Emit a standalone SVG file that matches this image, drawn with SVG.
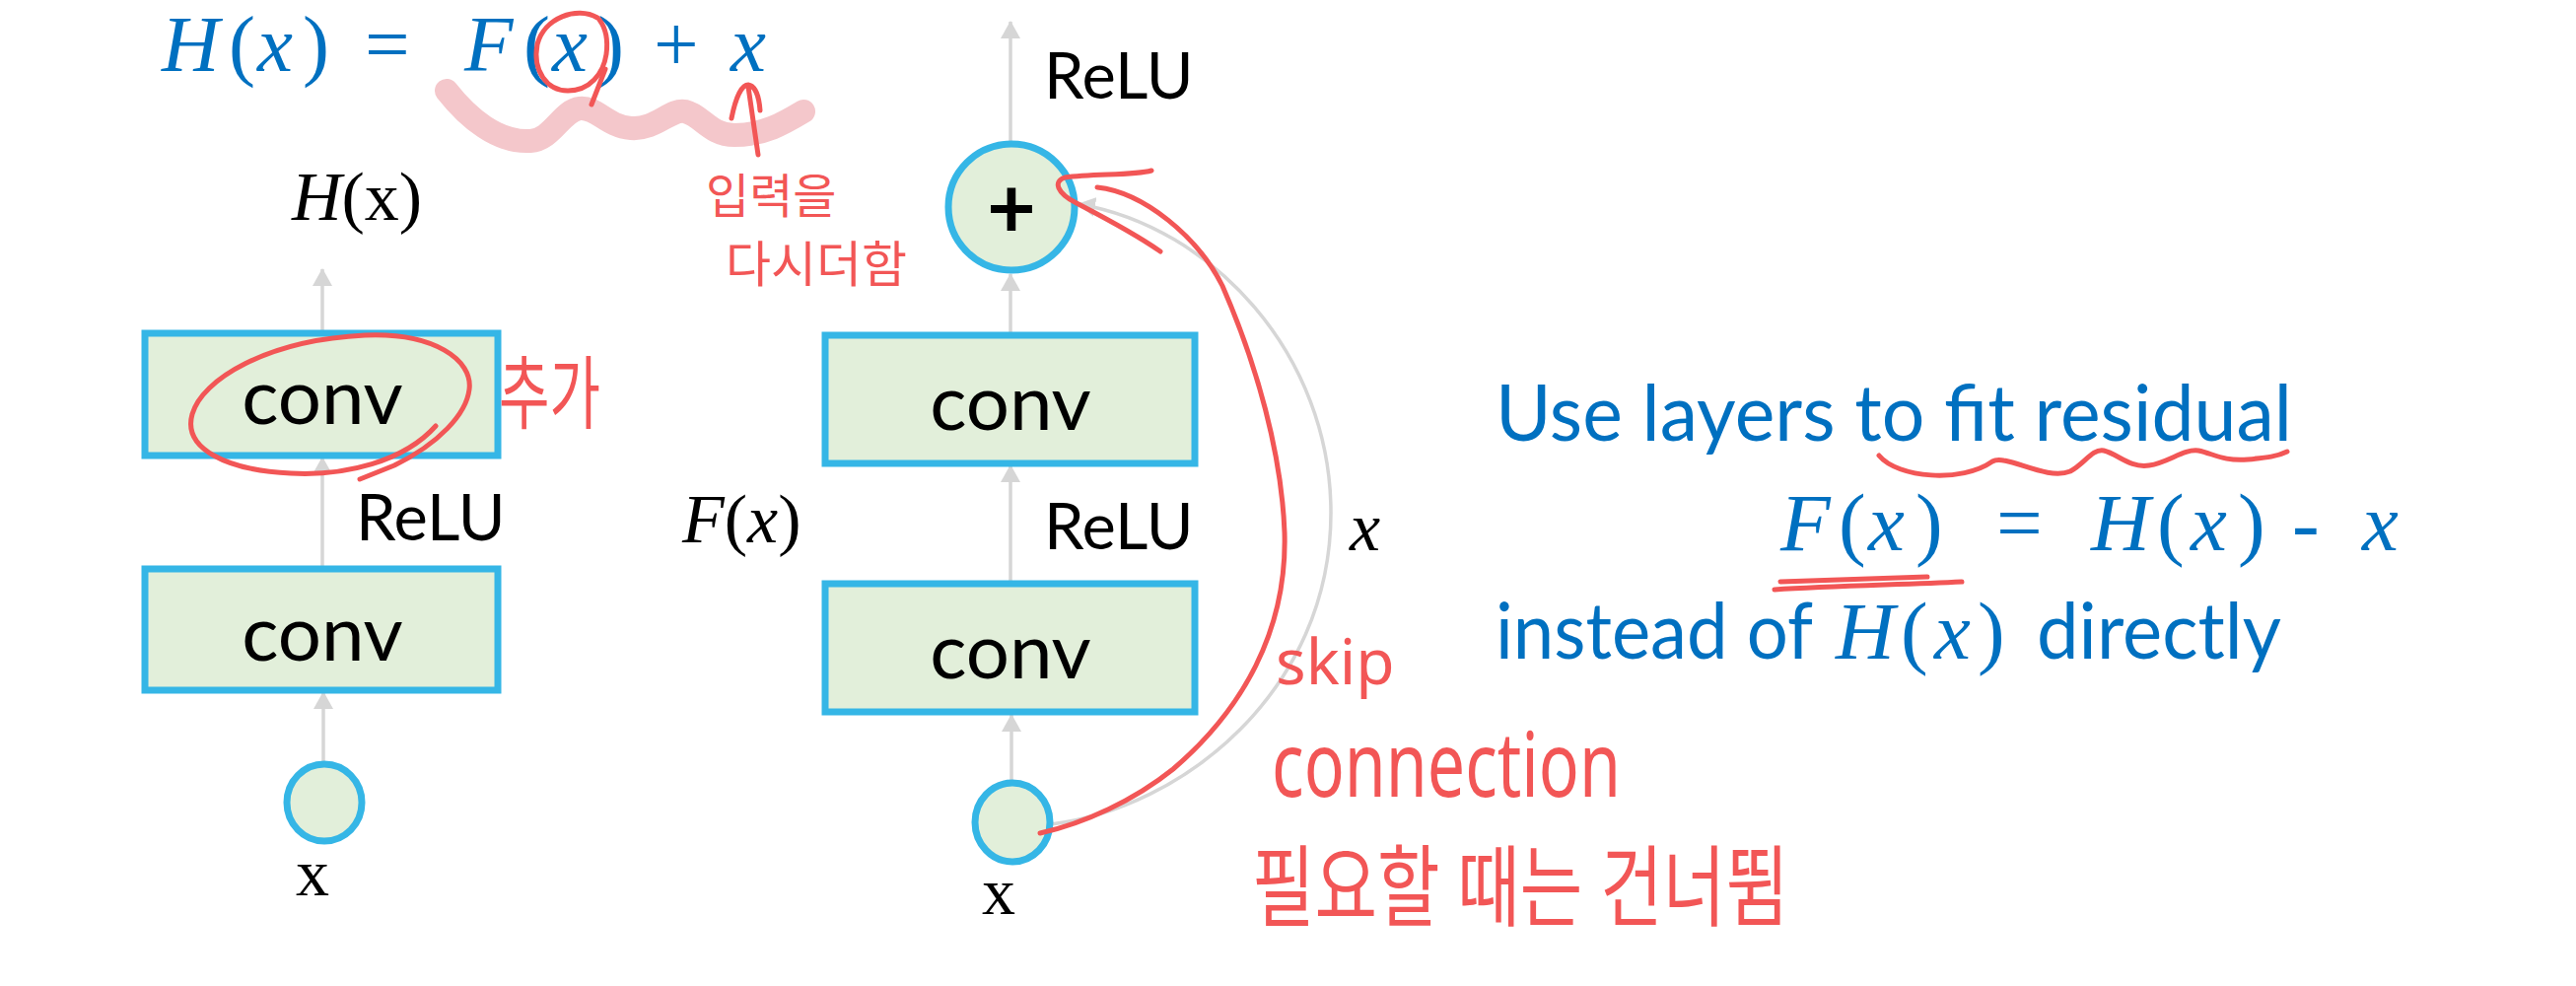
<svg xmlns="http://www.w3.org/2000/svg" width="2613" height="1000" viewBox="0 0 2613 1000">
<style>
.box{fill:#E2EFDA;stroke:#35B6E6;stroke-width:7}
.lbl{font-family:Lato,"Liberation Sans",sans-serif;fill:#000}
.conv{font-family:Lato,"Liberation Sans",sans-serif;font-size:78px;fill:#000;text-anchor:middle}
.relu{font-family:Lato,"Liberation Sans",sans-serif;font-size:65px;fill:#000}
.m{font-family:"Liberation Serif",serif;font-size:70px;fill:#000}
.it{font-style:italic}
.bm{font-family:"Liberation Serif",serif;font-size:83px;fill:#0070C0}
.tm{font-family:"Liberation Serif",serif;font-size:81px;fill:#0070C0}
.bt{font-family:Lato,"Liberation Sans",sans-serif;font-size:79px;fill:#0070C0}
.arr{stroke:#D6D6D6;stroke-width:3.5;fill:none;marker-end:url(#ah)}
.red{stroke:#F25656;stroke-width:5;fill:none;stroke-linecap:round;stroke-linejoin:round}
.rt{font-family:"Noto Sans","Noto Sans CJK KR",sans-serif;fill:#F25656}
</style>
<defs>
<marker id="ah" viewBox="0 0 18 20" markerWidth="18" markerHeight="20" markerUnits="userSpaceOnUse" refX="17" refY="10" orient="auto">
<path d="M0,0 L18,10 L0,20 z" fill="#D6D6D6"/>
</marker>
</defs>
<rect width="2613" height="1000" fill="#fff"/>

<!-- pink highlight -->
<path d="M453,92 C475,120 505,145 538,143 C560,142 570,112 588,110 C605,108 615,128 640,130 C665,132 680,110 695,113 C712,117 720,137 745,137 C775,137 795,125 815,113" stroke="#F4C7CB" stroke-width="24" fill="none" stroke-linecap="round" stroke-linejoin="round"/>

<!-- top equation -->
<g id="eq-top">
<text class="tm it" x="164" y="72">H</text>
<text class="tm" x="232" y="72">(</text>
<text class="tm it" x="261" y="72">x</text>
<text class="tm" x="307" y="72">)</text>
<text class="tm" x="370" y="72">=</text>
<text class="tm it" x="471" y="72">F</text>
<text class="tm" x="531" y="72">(</text>
<text class="tm it" x="560" y="72">x</text>
<text class="tm" x="606" y="72">)</text>
<text class="tm" x="663" y="72">+</text>
<text class="tm it" x="741" y="72">x</text>
</g>

<!-- connectors -->
<g id="connectors">
<line class="arr" x1="327" y1="338" x2="327" y2="273"/>
<line class="arr" x1="327" y1="577" x2="327" y2="464"/>
<line class="arr" x1="328" y1="774" x2="328" y2="702"/>
<line class="arr" x1="1025" y1="143" x2="1025" y2="22"/>
<line class="arr" x1="1025" y1="340" x2="1025" y2="278"/>
<line class="arr" x1="1025" y1="592" x2="1025" y2="472"/>
<line class="arr" x1="1026" y1="792" x2="1026" y2="725"/>
<path class="arr" d="M1066,836 C1200,820 1350,700 1350,520 C1350,360 1230,230 1094,207"/>
</g>

<!-- left column -->
<g id="left-hx"><text class="m" x="296" y="223"><tspan class="it">H</tspan>(x)</text></g>
<g id="left-conv-top"><rect class="box" x="147" y="338" width="358" height="124"/><text class="conv" x="327" y="430">conv</text></g>
<g id="left-relu"><text class="relu" x="361" y="548">ReLU</text></g>
<g id="left-conv-bottom"><rect class="box" x="147" y="577" width="358" height="123"/><text class="conv" x="327" y="670">conv</text></g>
<g id="left-input"><ellipse class="box" cx="329" cy="814" rx="38" ry="39"/><text class="m" x="317" y="908" style="font-size:68px" text-anchor="middle">x</text></g>

<!-- right column -->
<g id="right-relu-top"><text class="relu" x="1059" y="100">ReLU</text></g>
<g id="right-add"><circle class="box" cx="1026" cy="210" r="64"/><text class="lbl" x="1026" y="241" font-size="86" font-weight="bold" text-anchor="middle">+</text></g>
<g id="right-conv-top"><rect class="box" x="837" y="340" width="375" height="130"/><text class="conv" x="1025" y="436">conv</text></g>
<g id="right-fx"><text class="m" x="692" y="550"><tspan class="it">F</tspan>(<tspan class="it">x</tspan>)</text></g>
<g id="right-relu-mid"><text class="relu" x="1059" y="557">ReLU</text></g>
<g id="right-skip-x"><text class="m it" x="1369" y="558">x</text></g>
<g id="right-conv-bottom"><rect class="box" x="837" y="592" width="375" height="130"/><text class="conv" x="1025" y="688">conv</text></g>
<g id="right-input"><ellipse class="box" cx="1027" cy="834" rx="38" ry="40"/><text class="m" x="1013" y="927" style="font-size:68px" text-anchor="middle">x</text></g>

<!-- right text -->
<g id="residual-text">
<text class="bt" x="1517" y="447" textLength="808" lengthAdjust="spacingAndGlyphs">Use layers to fit residual</text>
<text class="bm it" x="1806" y="558">F</text>
<text class="bm" x="1865" y="558">(</text>
<text class="bm it" x="1895" y="558">x</text>
<text class="bm" x="1943" y="558">)</text>
<text class="bm" x="2025" y="558">=</text>
<text class="bm it" x="2121" y="558">H</text>
<text class="bm" x="2188" y="558">(</text>
<text class="bm it" x="2222" y="558">x</text>
<text class="bm" x="2270" y="558">)</text>
<text class="bm" x="2325" y="558">-</text>
<text class="bm it" x="2396" y="558">x</text>
<text class="bt" x="1517" y="668" textLength="322" lengthAdjust="spacingAndGlyphs">instead of</text>
<text class="bm it" x="1862" y="668">H</text>
<text class="bm" x="1928" y="668">(</text>
<text class="bm it" x="1962" y="668">x</text>
<text class="bm" x="2006" y="668">)</text>
<text class="bt" x="2066" y="668" textLength="248" lengthAdjust="spacingAndGlyphs">directly</text>
</g>

<!-- red annotations -->
<g id="annotations">
<path class="red" d="M606,18 C585,6 552,18 545,45 C540,72 555,92 576,92 C598,92 612,75 615,55 C617,40 614,28 608,20"/>
<path class="red" d="M614,70 L600,106"/>
<path class="red" d="M742,120 C746,100 752,86 759,86 C766,87 770,98 771,112 M759,88 L769,157"/>
<text class="rt" x="716" y="216" font-size="48">입력을</text>
<text class="rt" x="736" y="286" font-size="50">다시더함</text>
<path class="red" d="M442,432 C410,468 350,483 295,480 C230,477 185,455 195,420 C205,385 270,345 370,340 C440,337 480,365 476,395 C473,420 445,450 400,472 L365,486"/>
<text class="rt" transform="translate(506,428) scale(1,1.45)" font-size="56">추가</text>
<path class="red" d="M1168,173 C1150,178 1110,176 1080,180 C1068,184 1072,196 1092,206 C1115,218 1150,236 1177,255"/>
<path class="red" d="M1113,190 C1160,195 1215,240 1240,290 C1275,370 1300,460 1303,540 C1306,640 1260,720 1190,780 C1150,812 1100,835 1055,845"/>
<text class="rt" x="1294" y="694" font-size="64">skip</text>
<text class="rt" transform="translate(1290,808) scale(1,1.35)" font-size="68">connection</text>
<text class="rt" transform="translate(1270,932) scale(1,1.3)" font-size="69">필요할 때는 건너뜀</text>
<path class="red" d="M1906,462 C1925,485 1990,490 2021,468 C2035,460 2075,488 2100,478 C2115,470 2122,455 2134,457 C2148,460 2160,475 2180,472 C2200,469 2215,455 2230,457 C2245,460 2255,468 2280,466 C2300,464 2310,463 2320,458"/>
<path class="red" d="M1800,598 C1860,594 1930,593 1990,590 M1806,590 L1955,585" stroke-width="8"/>
</g>
</svg>
